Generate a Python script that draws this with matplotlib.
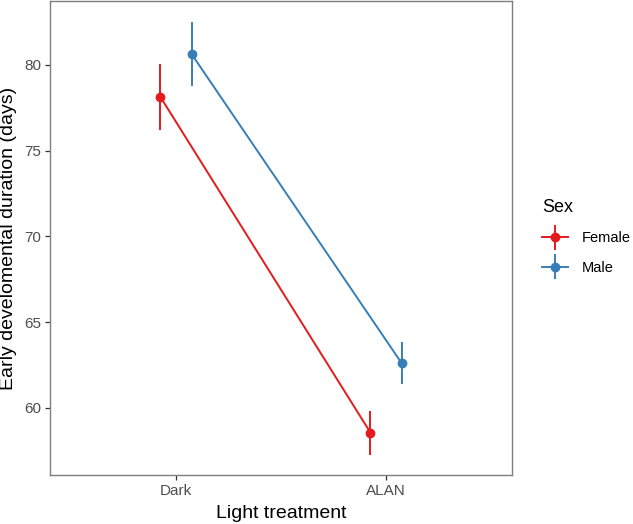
import matplotlib
matplotlib.use("Agg")
import matplotlib.pyplot as plt
from matplotlib.container import ErrorbarContainer
from matplotlib.legend_handler import HandlerErrorbar
import numpy as np

plt.rcParams['font.family'] = ['Liberation Sans', 'DejaVu Sans']

treatments = ["Dark", "ALAN"]
sexes = ["Female", "Male"]
means = {"Female": [78.13, 58.56], "Male": [80.64, 62.62]}
errs = {"Female": [1.9, 1.28], "Male": [1.86, 1.22]}
colors = {"Female": "#E41A1C", "Male": "#377EB8"}
dodge = {"Female": -0.074, "Male": 0.074}

fig = plt.figure(figsize=(6.33, 5.24), dpi=100)
ax = fig.add_axes([50/633, 1 - 475/524, (512-50)/633, (475-1)/524])

x = np.arange(len(treatments))
handles = []
for s in sexes:
    h = ax.errorbar(x + dodge[s], means[s], yerr=errs[s], fmt='-o', color=colors[s],
                    ms=6, lw=1.4, elinewidth=1.4, capsize=0, label=s)
    handles.append(h)

ax.set_xlim(-0.6, 1.6)
ax.set_ylim(56.09, 83.73)
ax.set_xticks(x)
ax.set_xticklabels(treatments)
ax.set_yticks([60, 65, 70, 75, 80])
ax.tick_params(axis='both', colors='#333333', labelcolor='#4D4D4D', labelsize=11, length=3.5, width=0.9, pad=3)
for sp in ax.spines.values():
    sp.set_color('#7F7F7F')
    sp.set_linewidth(1.0)
ax.set_xlabel("Light treatment", fontsize=14, color='black', labelpad=5)
ax.set_ylabel("Early develomental duration (days)", fontsize=14, color='black', labelpad=5)

leg = fig.legend(handles=handles, labels=sexes, title="Sex", loc='upper left',
                 bbox_to_anchor=(529/633, 1 - 186/524), frameon=False, fontsize=10.5,
                 title_fontsize=13, handlelength=1.75, handletextpad=0.95, labelspacing=1.05,
                 handler_map={ErrorbarContainer: HandlerErrorbar(xerr_size=0.5, yerr_size=0.85)})
leg._legend_box.align = "left"

fig.savefig("out.png", dpi=100)
